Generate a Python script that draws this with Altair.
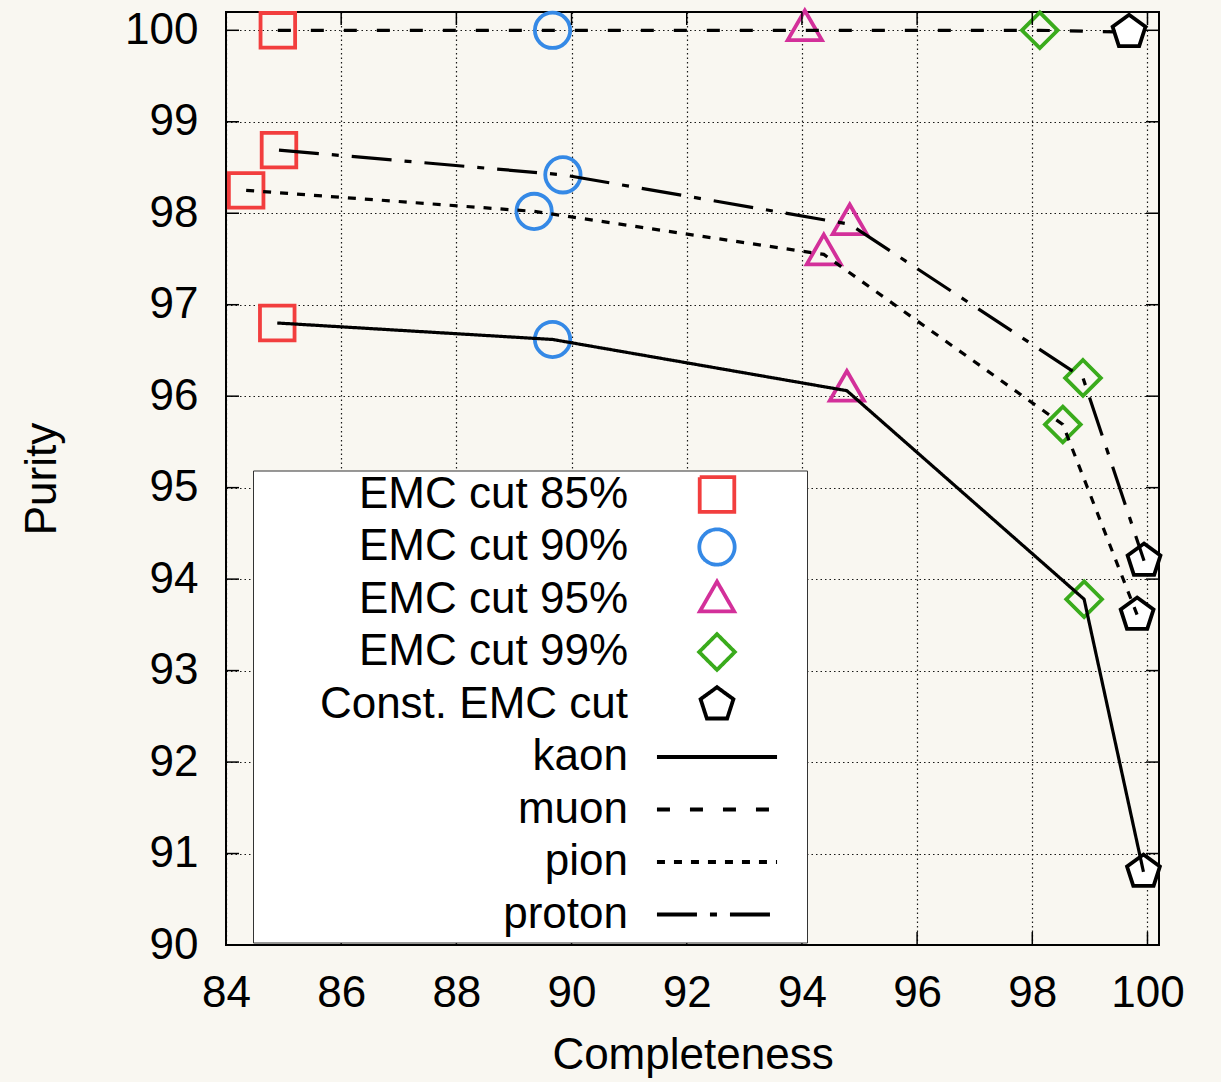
import altair as alt
import pandas as pd

# ---------------- data ----------------
cuts = ["EMC cut 85%", "EMC cut 90%", "EMC cut 95%", "EMC cut 99%", "Const. EMC cut"]
particles = ["kaon", "muon", "pion", "proton"]

kaon_x = [84.89, 89.67, 94.78, 98.90, 99.93]
kaon_y = [96.80, 96.62, 96.06, 93.78, 90.80]
muon_x = [84.90, 89.67, 94.05, 98.13, 99.68]
muon_y = [100.0, 100.0, 100.0, 100.0, 99.98]
pion_x = [84.35, 89.35, 94.38, 98.53, 99.82]
pion_y = [98.25, 98.02, 97.55, 95.69, 93.61]
proton_x = [84.92, 89.85, 94.83, 98.88, 99.94]
proton_y = [98.69, 98.42, 97.88, 96.20, 94.20]

x_ticks = [84, 86, 88, 90, 92, 94, 96, 98, 100]
y_ticks = [90, 91, 92, 93, 94, 95, 96, 97, 98, 99, 100]

cut_colors = ["#f23e3e", "#3589e6", "#d3309a", "#3aab1c", "#000000"]

series = {"kaon": (kaon_x, kaon_y), "muon": (muon_x, muon_y),
          "pion": (pion_x, pion_y), "proton": (proton_x, proton_y)}
rows = []
for p in particles:
    xs_, ys_ = series[p]
    for i, c in enumerate(cuts):
        rows.append({"particle": p, "cut": c, "x": xs_[i], "y": ys_[i], "order": i})
df = pd.DataFrame(rows)

# ---------------- styling ----------------
FONT = "Liberation Sans"
BG = "#f9f7f1"
W = H = 933


def shape_paths(dx, legend=False):
    """Marker outlines in symbol units (1 unit = 19 px), shifted by dx units."""
    def f(v):
        return f"{v:.3f}"
    ty = 0.1 if legend else 0.0
    sq = f"M{f(dx-0.91)},-0.91L{f(dx+0.91)},-0.91L{f(dx+0.91)},0.91L{f(dx-0.91)},0.91Z"
    ci = (f"M{f(dx+0.93)},0A0.93,0.93 0 1,1 {f(dx-0.93)},0"
          f"A0.93,0.93 0 1,1 {f(dx+0.93)},0Z")
    tr = f"M{f(dx)},{f(-1.04+ty)}L{f(dx+0.9)},{f(0.52+ty)}L{f(dx-0.9)},{f(0.52+ty)}Z"
    di = f"M{f(dx)},-0.94L{f(dx+0.94)},0L{f(dx)},0.94L{f(dx-0.94)},0Z"
    pe = (f"M{f(dx)},-0.91L{f(dx+0.865)},-0.281L{f(dx+0.535)},0.736"
          f"L{f(dx-0.535)},0.736L{f(dx-0.865)},-0.281Z")
    ln = f"M{f(dx-3.16)},0L{f(dx+3.16)},0"
    ext = ""
    if legend:
        ext = f"M{f(dx)},-0.94M{f(dx)},0.94M{f(dx + 4.18)},0"
    return [s + ext for s in (sq, ci, tr, di, pe, ln, ln, ln, ln)]


entries = cuts + particles
plot_shapes = shape_paths(0.0)
legend_shapes = shape_paths(23.158, legend=True)

stroke_range = cut_colors + ["#000000"] * 4
fill_range = ["transparent"] * 4 + ["#ffffff"] + ["transparent"] * 4
dash_range = [[1, 0]] * 5 + [[1, 0], [13, 20], [8, 9], [40, 13, 7, 13]]

xs = alt.Scale(domain=[84, 100.2], nice=False, zero=False)
ys = alt.Scale(domain=[90, 100.2], nice=False, zero=False)

xaxis = alt.Axis(values=x_ticks, title="Completeness", domain=False, ticks=False,
                 labelFontSize=44, labelFont=FONT, labelColor="black", labelPadding=26,
                 labelFlush=False, labelOverlap=False,
                 grid=True, gridColor="black", gridDash=[1.5, 3], gridWidth=1.2, gridOpacity=0.9,
                 titleFont=FONT, titleFontSize=44, titleFontWeight="normal", titleColor="black",
                 titleX=466.5, titleY=110, titleBaseline="middle", titleAlign="center")
yaxis = alt.Axis(values=y_ticks, title="Purity", domain=False, ticks=False,
                 labelFontSize=44, labelFont=FONT, labelColor="black", labelPadding=28,
                 labelFlush=False, labelOverlap=False,
                 grid=True, gridColor="black", gridDash=[1.5, 3], gridWidth=1.2, gridOpacity=0.9,
                 titleFont=FONT, titleFontSize=44, titleFontWeight="normal", titleColor="black",
                 titleX=-184, titleY=466.5, titleBaseline="middle", titleAlign="center", titleAngle=-90)

legend = alt.Legend(orient="none", legendX=27, legendY=458.5, title=None,
                    labelAlign="right", labelOffset=329, labelLimit=500,
                    labelFont=FONT, labelFontSize=44, labelColor="black",
                    fillColor="#ffffff", strokeColor="#333333", padding=2,
                    rowPadding=0.5, symbolSize=1444, symbolStrokeWidth=3.8,
                    symbolOpacity=1)


def enc_x():
    return alt.X("x:Q", scale=xs, axis=xaxis)


def enc_y():
    return alt.Y("y:Q", scale=ys, axis=yaxis)


points = alt.Chart(df).mark_point(filled=False, size=1444, strokeWidth=3.8, opacity=1).encode(
    x=enc_x(), y=enc_y(),
    shape=alt.Shape("cut:N", scale=alt.Scale(domain=entries, range=plot_shapes), legend=None),
    stroke=alt.Stroke("cut:N", scale=alt.Scale(domain=entries, range=stroke_range), legend=None),
    fill=alt.Fill("cut:N", scale=alt.Scale(domain=entries, range=fill_range), legend=None),
)

lines = alt.Chart(df).mark_line(strokeWidth=3.2).encode(
    x=enc_x(), y=enc_y(),
    order="order:O",
    stroke=alt.Stroke("particle:N", scale=alt.Scale(domain=entries, range=stroke_range), legend=None),
    strokeDash=alt.StrokeDash("particle:N", scale=alt.Scale(domain=entries, range=dash_range),
                              legend=None),
)

# legend-only layer (no rows drawn; the legend is built from the scale domains)
legend_layer = alt.Chart(df).transform_filter("false").mark_point(
    filled=False, size=1444, strokeWidth=3.8, opacity=1).encode(
    x=enc_x(), y=enc_y(),
    shape=alt.Shape("cut:N", scale=alt.Scale(domain=entries, range=legend_shapes), legend=legend),
    stroke=alt.Stroke("cut:N", scale=alt.Scale(domain=entries, range=stroke_range), legend=legend),
    fill=alt.Fill("cut:N", scale=alt.Scale(domain=entries, range=fill_range), legend=legend),
    strokeDash=alt.StrokeDash("cut:N", scale=alt.Scale(domain=entries, range=dash_range),
                              legend=legend),
)

xt = pd.DataFrame({"v": x_ticks})
yt = pd.DataFrame({"v": y_ticks})
tick_style = dict(color="black", strokeWidth=1.5)
xb = alt.Chart(xt).mark_rule(**tick_style).encode(
    x=alt.X("v:Q", scale=xs, axis=xaxis), y=alt.value(H), y2=alt.value(H - 13))
xtop = alt.Chart(xt).mark_rule(**tick_style).encode(
    x=alt.X("v:Q", scale=xs, axis=xaxis), y=alt.value(0), y2=alt.value(13))
yl = alt.Chart(yt).mark_rule(**tick_style).encode(
    y=alt.Y("v:Q", scale=ys, axis=yaxis), x=alt.value(0), x2=alt.value(13))
yr = alt.Chart(yt).mark_rule(**tick_style).encode(
    y=alt.Y("v:Q", scale=ys, axis=yaxis), x=alt.value(W), x2=alt.value(W - 13))

chart = alt.layer(points, lines, legend_layer, xb, xtop, yl, yr).resolve_scale(
    shape="independent", stroke="independent", fill="independent", strokeDash="independent"
).properties(
    width=W, height=H,
    autosize=alt.AutoSizeParams(type="none"),
    padding={"left": 226, "top": 12, "right": 62, "bottom": 137},
    background=BG,
).configure_view(stroke="black", strokeWidth=2, fill=BG)

chart.save("out.html", embed_options={"renderer": "svg", "actions": False})
